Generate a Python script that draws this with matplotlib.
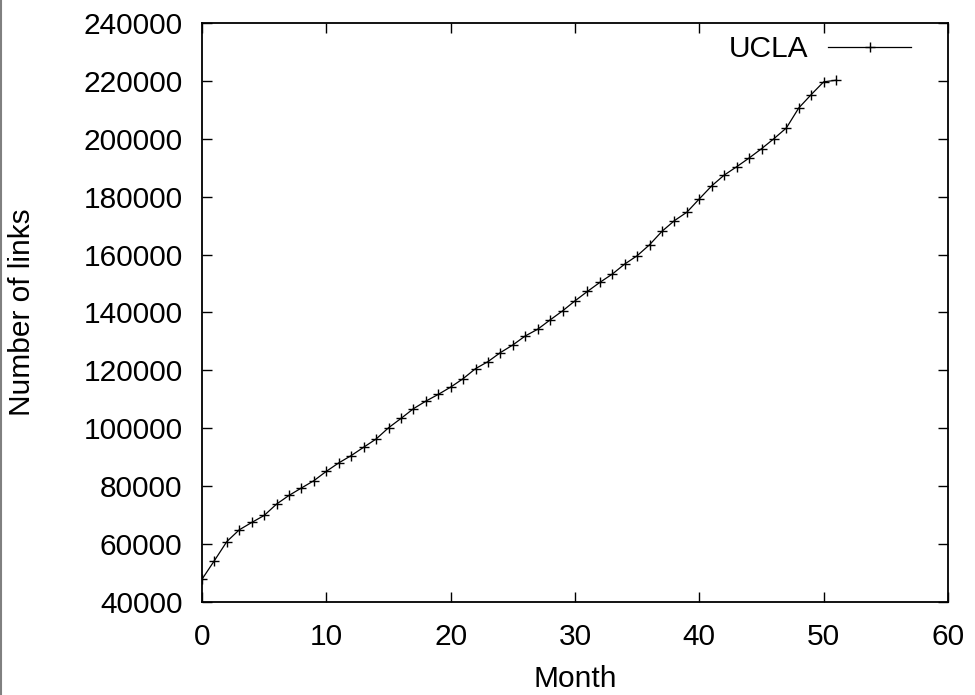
import matplotlib
matplotlib.use("Agg")
import matplotlib.pyplot as plt
from matplotlib.lines import Line2D

plt.rcParams['font.family'] = ['Liberation Sans', 'DejaVu Sans']

# monthly link counts
months = list(range(52))
links = [47860, 54310, 60890, 64940, 67470, 69890, 73840, 76820, 79390, 81910,
         85140, 88050, 90570, 93450, 96290, 100170, 103390, 106750, 109380, 111700,
         114230, 117140, 120610, 123030, 126150, 128780, 131900, 134220, 137440, 140560,
         144020, 147280, 150400, 153270, 156740, 159610, 163420, 168060, 171740, 174650,
         179250, 183760, 187460, 190340, 193350, 196570, 200040, 203740, 210670, 215280,
         219680, 220230]
series_name = "UCLA"
x_ticks = [0, 10, 20, 30, 40, 50, 60]
y_ticks = list(range(40000, 240001, 20000))

W, H = 975, 695
fig = plt.figure(figsize=(W / 100, H / 100), dpi=100)
ax = fig.add_axes([202 / W, 1 - 602 / H, (948 - 202) / W, (602 - 23) / H])

ax.plot(months, links, color='black', lw=0.9, marker='+', ms=7, mew=1.0,
        label=series_name)

ax.set_xlim(0, 60)
ax.set_ylim(40000, 240000)
ax.set_xticks(x_ticks)
ax.set_yticks(y_ticks)
ax.tick_params(direction='in', length=7, width=1, top=True, right=True,
               labelsize=21.5, pad=14)
ax.tick_params(axis='x', pad=15)
for s in ax.spines.values():
    s.set_linewidth(1.3)

ax.set_xlabel("Month", fontsize=21.5, va='center')
ax.xaxis.set_label_coords(0.5, (602 - 679) / 579)
fig.text(22 / W, 1 - 312 / H, "Number of links", rotation=90,
         ha='center', va='center', fontsize=21.5)

leg = ax.legend(loc='center right', bbox_to_anchor=(911 / W, 1 - 49 / H),
                bbox_transform=fig.transFigure, frameon=False, markerfirst=False,
                fontsize=21.5, handlelength=2.77, handletextpad=0.67,
                borderpad=0, borderaxespad=0)

# thin grey border on the left edge of the image
fig.add_artist(Line2D([1 / W, 1 / W], [0, 1], color='#808080', lw=1.5,
                      transform=fig.transFigure))

fig.savefig("out.png", dpi=100, facecolor='white')
